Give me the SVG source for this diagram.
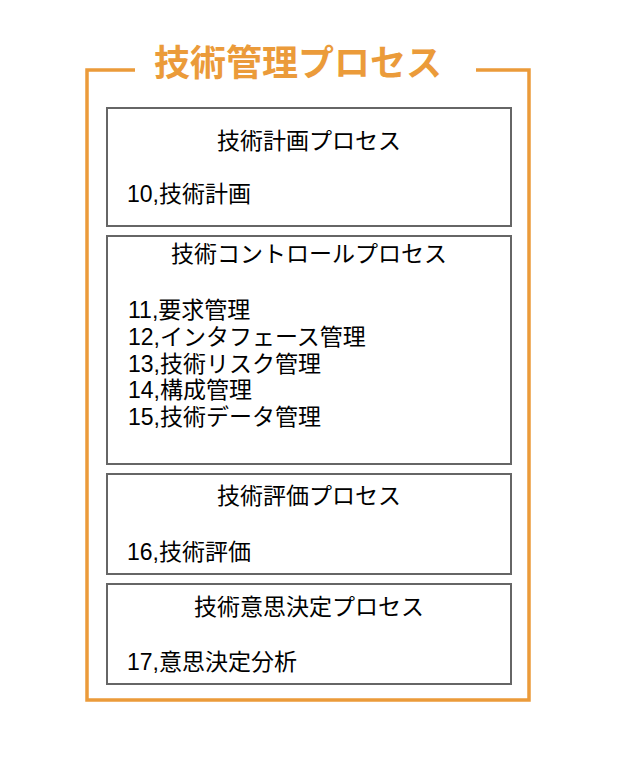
<svg xmlns="http://www.w3.org/2000/svg" width="631" height="767" viewBox="0 0 631 767">
<style>
.frame{fill:none;stroke:#EB9B3A;stroke-width:3.5}
.box{fill:#fff;stroke:#666;stroke-width:2}
text{font-family:"Liberation Sans","Noto Sans CJK JP",sans-serif;fill:#000;font-size:23px}
.head{text-anchor:middle}
.title{font-family:"Noto Sans CJK JP",sans-serif;font-weight:bold;font-size:36px;fill:#EB9B3A;text-anchor:middle}
</style>
<rect width="631" height="767" fill="#fff"/>
<g id="frame">
<path class="frame" d="M135,70 H87 V700 H529 V70 H476"/>
<text class="title" x="298" y="76">技術管理プロセス</text>
</g>
<g id="planning">
<rect class="box" x="107" y="108" width="404" height="118"/>
<text class="head" x="309" y="149">技術計画プロセス</text>
<text x="127" y="202">10,技術計画</text>
</g>
<g id="control">
<rect class="box" x="107" y="236" width="404" height="228"/>
<text class="head" x="309" y="262">技術コントロールプロセス</text>
<text x="128" y="318">11,要求管理</text>
<text x="128" y="345">12,インタフェース管理</text>
<text x="128" y="372">13,技術リスク管理</text>
<text x="128" y="398">14,構成管理</text>
<text x="128" y="425">15,技術データ管理</text>
</g>
<g id="assessment">
<rect class="box" x="107" y="474" width="404" height="100"/>
<text class="head" x="309" y="504">技術評価プロセス</text>
<text x="127" y="560">16,技術評価</text>
</g>
<g id="decision">
<rect class="box" x="107" y="584" width="404" height="100"/>
<text class="head" x="309" y="615">技術意思決定プロセス</text>
<text x="127" y="670">17,意思決定分析</text>
</g>
<g id="connectors"/>
</svg>
